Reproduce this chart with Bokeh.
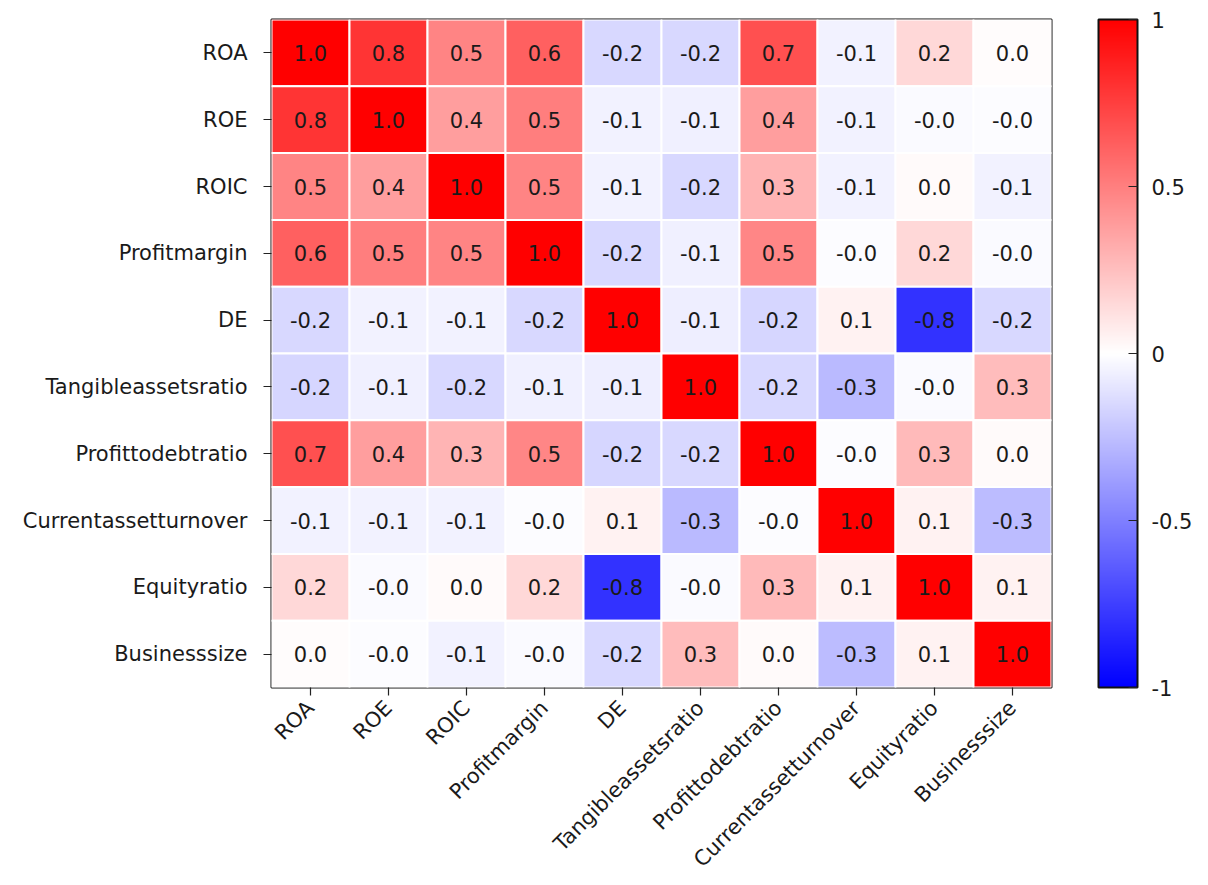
import math
from bokeh.plotting import figure
from bokeh.models import ColumnDataSource, LinearColorMapper, ColorBar, FixedTicker, FactorRange
from bokeh.core.properties import value
from bokeh.embed import file_html
from bokeh.resources import INLINE

labels = ["ROA", "ROE", "ROIC", "Profitmargin", "DE", "Tangibleassetsratio",
          "Profittodebtratio", "Currentassetturnover", "Equityratio", "Businesssize"]

row_ROA = [1.00, 0.79, 0.48, 0.62, -0.151, -0.151, 0.68, -0.05, 0.151, 0.01]
row_ROE = [0.79, 1.00, 0.38, 0.50, -0.05, -0.06, 0.38, -0.05, -0.02, -0.01]
row_ROIC = [0.48, 0.38, 1.00, 0.48, -0.05, -0.151, 0.29, -0.05, 0.02, -0.05]
row_PM = [0.62, 0.50, 0.48, 1.00, -0.151, -0.06, 0.47, -0.01, 0.151, -0.02]
row_DE = [-0.151, -0.05, -0.05, -0.151, 1.00, -0.07, -0.16, 0.05, -0.80, -0.151]
row_TA = [-0.16, -0.06, -0.151, -0.06, -0.07, 1.00, -0.151, -0.27, -0.02, 0.26]
row_PD = [0.68, 0.38, 0.29, 0.47, -0.16, -0.151, 1.00, -0.01, 0.27, 0.02]
row_CA = [-0.05, -0.05, -0.05, -0.01, 0.05, -0.27, -0.01, 1.00, 0.05, -0.26]
row_EQ = [0.151, -0.02, 0.02, 0.151, -0.80, -0.02, 0.27, 0.05, 1.00, 0.05]
row_BS = [0.01, -0.01, -0.05, -0.02, -0.151, 0.26, 0.02, -0.26, 0.05, 1.00]
rows = [row_ROA, row_ROE, row_ROIC, row_PM, row_DE, row_TA, row_PD, row_CA, row_EQ, row_BS]

cbar_ticks = [-1, -0.5, 0, 0.5, 1]
cbar_labels = ["-1", "-0.5", "0", "0.5", "1"]

# bwr palette
palette = []
for i in range(256):
    t = i / 255
    if t < 0.5:
        r = g = int(round(255 * 2 * t)); b = 255
    else:
        r = 255; g = b = int(round(255 * 2 * (1 - t)))
    palette.append("#%02x%02x%02x" % (r, g, b))

mapper = LinearColorMapper(palette=palette, low=-1, high=1)

xs, ys, vals, txt = [], [], [], []
for rl, row in zip(labels, rows):
    for cl, v in zip(labels, row):
        xs.append(cl); ys.append(rl); vals.append(v); txt.append(f"{v:.1f}")
src = ColumnDataSource(dict(x=xs, y=ys, v=vals, t=txt))

FONT = "DejaVu Sans"
p = figure(width=1200, height=883, x_range=FactorRange(*labels),
           y_range=FactorRange(*list(reversed(labels))),
           output_backend="svg", toolbar_location=None,
           min_border_left=271, min_border_top=19, min_border_bottom=196, min_border_right=149)

p.rect(x="x", y="y", width=1, height=1, source=src,
       fill_color={"field": "v", "transform": mapper}, line_color="white", line_width=2)
p.text(x="x", y="y", text="t", source=src, text_align="center", text_baseline="middle",
       text_font=value(FONT), text_font_size="21px", text_color="#1a1a1a")

p.grid.visible = False
p.outline_line_color = "#111111"
p.outline_line_width = 2
for ax in (p.xaxis[0], p.yaxis[0]):
    ax.axis_line_color = None
    ax.major_tick_out = 8
    ax.major_tick_in = 0
    ax.major_tick_line_color = "#222222"
    ax.major_tick_line_width = 1.2
    ax.major_label_text_font = FONT
    ax.major_label_text_font_size = "21px"
    ax.major_label_text_color = "#1a1a1a"
p.yaxis.major_label_standoff = 16
p.xaxis.major_label_orientation = math.pi / 4
p.xaxis.major_label_standoff = 9

cb = ColorBar(color_mapper=mapper, ticker=FixedTicker(ticks=cbar_ticks),
              major_label_overrides={t: l for t, l in zip(cbar_ticks, cbar_labels)},
              width=39, height=668, location=(47, 0), margin=0, padding=0,
              bar_line_color="#111111", bar_line_width=2,
              major_tick_in=9, major_tick_out=0, major_tick_line_color="#222222",
              major_tick_line_width=1.2, label_standoff=14,
              major_label_text_font=FONT, major_label_text_font_size="21px",
              major_label_text_color="#1a1a1a", border_line_color=None,
              background_fill_color=None)
p.add_layout(cb, "right")

open("out.html", "w").write(file_html(p, INLINE))
